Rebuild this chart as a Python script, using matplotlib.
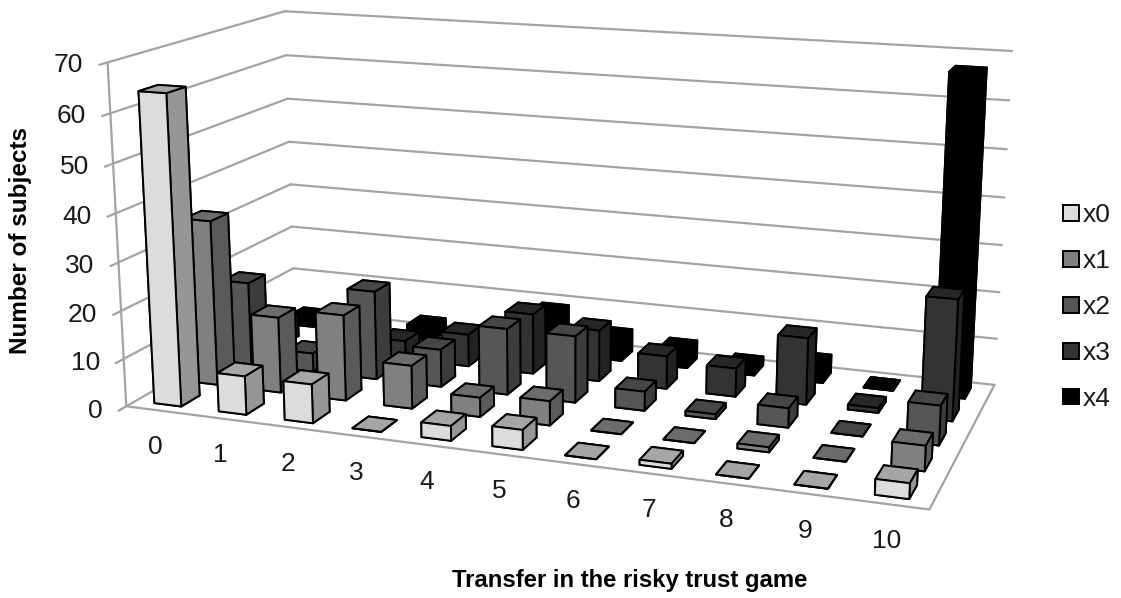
#!/usr/bin/env python3
"""Subjects per transfer in the risky trust game, one row of bars per multiplier."""
import numpy as np
import matplotlib; matplotlib.use("Agg")
import matplotlib.pyplot as plt
from matplotlib.patches import Patch

TRANSFERS = ["0", "1", "2", "3", "4", "5", "6", "7", "8", "9", "10"]
SERIES = ["x0", "x1", "x2", "x3", "x4"]
X0 = [64, 8, 8, 0, 3, 4, 0, 1, 0, 0, 3]
X1 = [35, 16, 18, 9, 4, 5, 0, 0, 1, 0, 5]
X2 = [18, 4, 19, 8, 14, 14, 4, 1, 4, 0, 8]
X3 = [5, 3, 4, 7, 13, 11, 7, 6, 14, 1, 25]
X4 = [2, 2, 3, 1, 9, 5, 4, 2, 4, 0, 67]
Z_TICKS = [0, 10, 20, 30, 40, 50, 60, 70]

# front, top, side shades per series
FACES = {
    "x0": ("#dcdcdc", "#a6a6a6", "#969696"),
    "x1": ("#808080", "#6c6c6c", "#5a5a5a"),
    "x2": ("#565656", "#464646", "#3c3c3c"),
    "x3": ("#333333", "#272727", "#222222"),
    "x4": ("#000000", "#000000", "#000000"),
}
WALL = "#a3a3a3"
INK = "#1a1a1a"
BAR_W, BAR_D = 0.42, 0.5
W, H = 1121, 598

plt.rcParams["font.family"] = ["Liberation Sans", "DejaVu Sans"]
fig = plt.figure(figsize=(W / 100, H / 100), dpi=100)
ax = fig.add_axes([91.26 / W, (H - 705.3) / H, 926.6 / W, 926.6 / H], projection="3d")
ax.set_xlim(0, len(TRANSFERS)); ax.set_ylim(0, len(SERIES)); ax.set_zlim(0, 70)
ax.view_init(elev=14.15, azim=-70.0)
ax.set_proj_type("persp", focal_length=0.4164)
ax.set_box_aspect((2.3165, 1.0502, 1.0))
ax.set_xticks([]); ax.set_yticks([]); ax.set_zticks([])
ax.set_axis_off()
ax.patch.set_alpha(0)
ax.computed_zorder = False

nx, ny = len(TRANSFERS), len(SERIES)

# walls and floor
def wall(xs, ys, zs, lw=1.6):
    ax.plot(xs, ys, zs, color=WALL, lw=lw, zorder=1, solid_capstyle="round")

for z in Z_TICKS:
    wall([0, nx], [ny, ny], [z, z])
    wall([0, 0], [-0.2, ny], [z, z])
    ax.text(-0.2, -0.27, z, str(z), ha="right", va="center", fontsize=19, color=INK)
wall([0, 0], [0, 0], [0, 70])
wall([0, nx, nx], [0, 0, ny], [0, 0, 0])

# far corner first so nearer bars paint over
order = 1
for j in range(ny - 1, -1, -1):
    vals = [X0, X1, X2, X3, X4][j]
    front, top, side = FACES[SERIES[j]]
    for i in range(nx):
        order += 1
        # bar3d face order: bottom, top, -y, +y, -x, +x
        ax.bar3d(i + 0.5 - BAR_W / 2, j + 0.5 - BAR_D / 2, 0, BAR_W, BAR_D, vals[i],
                 color=[top, top, front, side, side, side], shade=False,
                 edgecolor="black", linewidth=1.4, zorder=order)

# the category labels sit a little further out on the left than on the right
for i, lab in enumerate(TRANSFERS):
    ax.text(i + 1.2 - 0.048 * i, -1.26 + 0.0126 * i, 0, lab, ha="center", va="center",
            fontsize=19, color=INK)

fig.text(21 / W, 1 - 240 / H, "Number of subjects", rotation=90, ha="center", va="center",
         fontsize=17.5, fontweight="bold", color="black")
fig.text(630 / W, 1 - 580 / H, "Transfer in the risky trust game", ha="center", va="center",
         fontsize=17.2, fontweight="bold", color="black")

handles = [Patch(facecolor=FACES[s][0], edgecolor="black", linewidth=1.4, label=s) for s in SERIES]
fig.legend(handles=handles, loc="center left", bbox_to_anchor=(1063 / W, 1 - 307 / H), frameon=False,
           fontsize=19, labelcolor=INK, handlelength=0.6, handleheight=0.55, handletextpad=0.15,
           labelspacing=0.83, borderpad=0, borderaxespad=0)

fig.savefig("out.png", dpi=100)
